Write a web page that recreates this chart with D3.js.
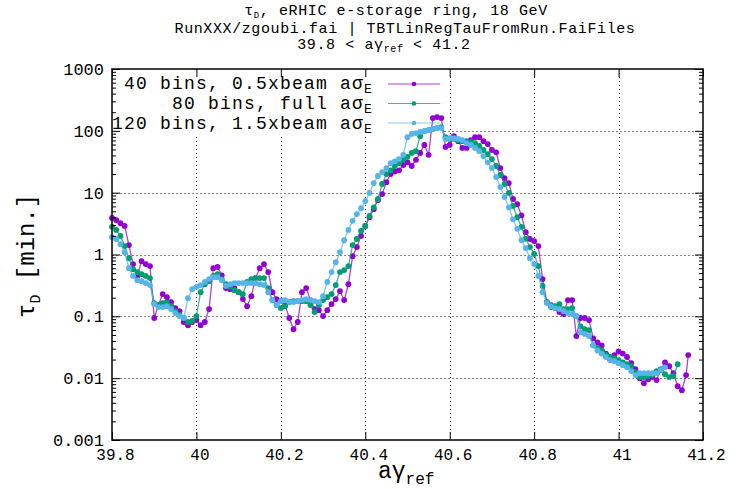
<!DOCTYPE html>
<html>
<head>
<meta charset="utf-8">
<script src="https://cdn.jsdelivr.net/npm/d3@7"></script>
<style>
  body { margin: 0; background: #fff; }
  text { font-family: "Liberation Mono", "DejaVu Sans Mono", monospace; fill: #000; }
</style>
</head>
<body>
<svg id="chart" width="740" height="489"></svg>
<script>
// a*gamma_ref sample positions (shared by the three binnings)
const gammaRef = [
  39.80, 39.81, 39.82, 39.83, 39.84, 39.85, 39.86, 39.87, 39.88, 39.89,
  39.90, 39.91, 39.92, 39.93, 39.94, 39.95, 39.96, 39.97, 39.98, 39.99,
  40.00, 40.01, 40.02, 40.03, 40.04, 40.05, 40.06, 40.07, 40.08, 40.09,
  40.10, 40.11, 40.12, 40.13, 40.14, 40.15, 40.16, 40.17, 40.18, 40.19,
  40.20, 40.21, 40.22, 40.23, 40.24, 40.25, 40.26, 40.27, 40.28, 40.29,
  40.30, 40.31, 40.32, 40.33, 40.34, 40.35, 40.36, 40.37, 40.38, 40.39,
  40.40, 40.41, 40.42, 40.43, 40.44, 40.45, 40.46, 40.47, 40.48, 40.49,
  40.50, 40.51, 40.52, 40.53, 40.54, 40.55, 40.56, 40.57, 40.58, 40.59,
  40.60, 40.61, 40.62, 40.63, 40.64, 40.65, 40.66, 40.67, 40.68, 40.69,
  40.70, 40.71, 40.72, 40.73, 40.74, 40.75, 40.76, 40.77, 40.78, 40.79,
  40.80, 40.81, 40.82, 40.83, 40.84, 40.85, 40.86, 40.87, 40.88, 40.89,
  40.90, 40.91, 40.92, 40.93, 40.94, 40.95, 40.96, 40.97, 40.98, 40.99,
  41.00, 41.01, 41.02, 41.03, 41.04, 41.05, 41.06, 41.07, 41.08, 41.09,
  41.10, 41.11, 41.12, 41.13, 41.14, 41.15, 41.16, 41.165
];

// tau_D [min.] : 40 bins, 0.5 x beam a.sigma_E
const tau40bins = [
  3.9, 3.6, 3.2, 2.9, 1.42, 0.70, 0.45, 0.78, 0.70, 0.65,
  0.094, 0.152, 0.229, 0.204, 0.170, 0.136, 0.121, 0.081, 0.072, 0.081,
  0.087, 0.072, 0.081, 0.131, 0.60, 0.63, 0.46, 0.286, 0.275, 0.286,
  0.246, 0.19, 0.146, 0.212, 0.415, 0.60, 0.70, 0.52, 0.246, 0.19,
  0.176, 0.152, 0.094, 0.062, 0.081, 0.246, 0.286, 0.183, 0.131, 0.126,
  0.101, 0.126, 0.158, 0.19, 0.256, 0.183, 0.33, 0.94, 1.32, 2.0,
  2.9, 4.0, 5.4, 7.6, 9.5, 14.8, 20, 22, 23, 28,
  31, 27, 34, 44, 59, 41, 161, 167, 161, 55,
  59, 82, 68, 53, 53, 71, 79, 79, 68, 61,
  49, 45, 25, 17.2, 14.3, 7.9, 6.5, 4.3, 2.3, 1.78,
  1.65, 1.37, 0.40, 0.170, 0.152, 0.136, 0.117, 0.109, 0.183, 0.183,
  0.048, 0.094, 0.094, 0.087, 0.044, 0.038, 0.034, 0.025, 0.020, 0.0236,
  0.027, 0.025, 0.022, 0.0175, 0.014, 0.010, 0.0083, 0.0096, 0.0104, 0.0093,
  0.0135, 0.018, 0.0156, 0.012, 0.0074, 0.0064, 0.0112, 0.0236
];

// tau_D [min.] : 80 bins, full a.sigma_E
const tau80bins = [
  2.8, 2.5, 2.0, 1.37, 0.87, 0.58, 0.52, 0.48, 0.45, 0.415,
  0.164, 0.152, 0.164, 0.170, 0.146, 0.121, 0.105, 0.094, 0.081, 0.084,
  0.101, 0.246, 0.33, 0.37, 0.45, 0.48, 0.40, 0.33, 0.30, 0.265,
  0.246, 0.229, 0.36, 0.40, 0.415, 0.415, 0.415, 0.286, 0.183, 0.152,
  0.136, 0.146, 0.170, 0.176, 0.176, 0.176, 0.176, 0.152, 0.117, 0.152,
  0.183, 0.204, 0.229, 0.32, 0.52, 0.56, 0.65, 1.42, 1.78, 2.4,
  2.9, 4.2, 5.8, 7.9, 13.8, 20, 23, 27, 30, 34,
  38, 44, 47, 82, 99, 103, 107, 111, 115, 79,
  74, 74, 71, 68, 68, 66, 63, 57, 49, 42,
  35, 27, 19.3, 13.8, 9.9, 6.1, 4.0, 2.8, 1.8, 1.32,
  1.02, 0.65, 0.31, 0.170, 0.141, 0.146, 0.158, 0.131, 0.131, 0.136,
  0.101, 0.069, 0.062, 0.060, 0.034, 0.031, 0.028, 0.024, 0.022, 0.021,
  0.0196, 0.018, 0.0168, 0.0156, 0.0125, 0.0104, 0.0104, 0.0108, 0.0112, 0.013,
  0.014, 0.0116, 0.0104, 0.0108, 0.0168, null, null, null
];

// tau_D [min.] : 120 bins, 1.5 x beam a.sigma_E
const tau120bins = [
  1.9, 1.78, 1.47, 1.09, 0.60, 0.45, 0.385, 0.37, 0.345, 0.32,
  0.158, 0.141, 0.141, 0.146, 0.131, 0.113, 0.101, 0.094, 0.197, 0.275,
  0.30, 0.32, 0.36, 0.40, 0.43, 0.43, 0.385, 0.31, 0.33, 0.345,
  0.345, 0.345, 0.345, 0.345, 0.345, 0.33, 0.32, 0.246, 0.183, 0.152,
  0.176, 0.183, 0.170, 0.170, 0.176, 0.183, 0.19, 0.183, 0.176, 0.170,
  0.212, 0.36, 0.52, 0.75, 1.09, 1.7, 2.5, 3.5, 4.5, 5.6,
  7.3, 9.9, 14.3, 18.6, 21.5, 25, 30, 32, 35, 41,
  79, 89, 92, 96, 99, 103, 107, 111, 111, 74,
  76, 76, 74, 71, 63, 59, 53, 47, 39, 31,
  25, 17.9, 12.3, 8.5, 5.8, 3.7, 2.6, 1.7, 1.27, 0.87,
  0.70, 0.45, 0.246, 0.164, 0.146, 0.136, 0.131, 0.121, 0.113, 0.109,
  0.101, 0.055, 0.052, 0.048, 0.034, 0.028, 0.025, 0.022, 0.0196, 0.0188,
  0.0175, 0.0162, 0.015, 0.013, 0.0112, 0.012, 0.012, 0.012, 0.012, 0.012,
  0.0135, 0.015, null, null, null, null, null, null
];

const xTickValues = [39.8, 40.0, 40.2, 40.4, 40.6, 40.8, 41.0, 41.2];
const yTickValues = [0.001, 0.01, 0.1, 1, 10, 100, 1000];

// legend entries (text before the sigma) and colours
const seriesLabels = ["40 bins, 0.5xbeam a", "80 bins, full a", "120 bins, 1.5xbeam a"];
const seriesColors = ["#9400d3", "#009e73", "#56b4e9"];
const seriesValues = [tau40bins, tau80bins, tau120bins];

const svg = d3.select("#chart");
const plotLeft = 112, plotRight = 703, plotTop = 69, plotBottom = 440;

const x = d3.scaleLinear().domain([39.8, 41.2]).range([plotLeft, plotRight]);
const y = d3.scaleLog().domain([0.001, 1000]).range([plotBottom, plotTop]);

// ---- title ----
const title = svg.append("g").attr("font-size", 15).attr("letter-spacing", 0.6);
const t1 = title.append("text").attr("x", 396).attr("y", 15).attr("text-anchor", "middle");
t1.append("tspan").text("τ");
t1.append("tspan").attr("font-size", 9).attr("dy", 2.5).text("D");
t1.append("tspan").attr("dy", -2.5).text(", eRHIC e-storage ring, 18 GeV");
title.append("text").attr("x", 405).attr("y", 32.5).attr("text-anchor", "middle")
  .text("RunXXX/zgoubi.fai | TBTLinRegTauFromRun.FaiFiles");
const t3 = title.append("text").attr("x", 384).attr("y", 48.5).attr("text-anchor", "middle");
t3.append("tspan").text("39.8 < aγ");
t3.append("tspan").attr("font-size", 10).attr("dy", 3).text("ref");
t3.append("tspan").attr("dy", -3).text(" < 41.2");

// ---- grid ----
const grid = svg.append("g").attr("fill", "none");
grid.selectAll("line.gx").data(xTickValues.slice(1, -1)).join("line")
  .attr("class", "gx")
  .attr("x1", d => Math.round(x(d)) + 0.5).attr("x2", d => Math.round(x(d)) + 0.5)
  .attr("y1", plotTop).attr("y2", plotBottom)
  .attr("stroke", "#222").attr("stroke-width", 1).attr("stroke-dasharray", "1,3");
grid.selectAll("line.gy").data(yTickValues.slice(1, -1)).join("line")
  .attr("class", "gy")
  .attr("x1", plotLeft).attr("x2", plotRight)
  .attr("y1", d => Math.round(y(d)) + 0.5).attr("y2", d => Math.round(y(d)) + 0.5)
  .attr("stroke", "#888").attr("stroke-width", 1).attr("stroke-dasharray", "2,2");

// opaque legend background
svg.append("rect").attr("x", plotLeft + 1).attr("y", plotTop + 1)
  .attr("width", 331).attr("height", 64).attr("fill", "#fff");

// ---- data ----
const line = d3.line()
  .defined(d => d[1] != null)
  .x(d => x(d[0]))
  .y(d => y(d[1]));

const plot = svg.append("g");
seriesValues.forEach((vals, k) => {
  const rows = gammaRef.map((g, i) => [g, vals[i]]);
  const g = plot.append("g");
  g.append("path").datum(rows)
    .attr("d", line)
    .attr("fill", "none")
    .attr("stroke", seriesColors[k])
    .attr("stroke-width", 1.3)
    .attr("stroke-opacity", 0.75);
  g.selectAll("circle").data(rows.filter(d => d[1] != null)).join("circle")
    .attr("cx", d => x(d[0]))
    .attr("cy", d => y(d[1]))
    .attr("r", 2.9)
    .attr("fill", seriesColors[k]);
});

// ---- legend ----
const legend = svg.append("g").attr("font-size", 18).attr("letter-spacing", 1.2);
const rowBase = [89, 109, 128.5];
const rowMid = [84, 103.5, 123];
seriesLabels.forEach((lab, k) => {
  const t = legend.append("text").attr("x", 373).attr("y", rowBase[k]).attr("text-anchor", "end");
  t.append("tspan").text(lab + "σ");
  t.append("tspan").attr("font-size", 13).attr("dy", 4).text("E");
  legend.append("line")
    .attr("x1", 388).attr("x2", 440).attr("y1", rowMid[k]).attr("y2", rowMid[k])
    .attr("stroke", seriesColors[k]).attr("stroke-width", 1.2).attr("stroke-opacity", 0.75);
  legend.append("circle").attr("cx", 414).attr("cy", rowMid[k]).attr("r", 2.3)
    .attr("fill", seriesColors[k]);
});

// ---- axes ----
const minorY = [];
yTickValues.slice(0, -1).forEach(d => {
  for (let m = 2; m <= 9; m++) minorY.push(d * m);
});

const fmtX = d => d3.format("~g")(+d.toFixed(1));
const fmtY = d3.format("~g");

const axB = svg.append("g").attr("transform", `translate(0,${plotBottom})`)
  .call(d3.axisBottom(x).tickValues(xTickValues).tickFormat(fmtX).tickSizeInner(-8).tickSizeOuter(0));
axB.selectAll("text").attr("font-size", 16).attr("dy", null).attr("y", 20).attr("dx", 3)
  .attr("font-family", "Liberation Mono");
svg.append("g").attr("transform", `translate(0,${plotTop})`)
  .call(d3.axisTop(x).tickValues(xTickValues).tickFormat("").tickSizeInner(-8).tickSizeOuter(0));

const axL = svg.append("g").attr("transform", `translate(${plotLeft},0)`)
  .call(d3.axisLeft(y).tickValues(yTickValues).tickFormat(fmtY).tickSizeInner(-8).tickSizeOuter(0).tickPadding(8));
axL.selectAll("text").attr("font-size", 17).attr("font-family", "Liberation Mono");
svg.append("g").attr("transform", `translate(${plotLeft},0)`)
  .call(d3.axisLeft(y).tickValues(minorY).tickFormat("").tickSizeInner(-4).tickSizeOuter(0));
svg.append("g").attr("transform", `translate(${plotRight},0)`)
  .call(d3.axisRight(y).tickValues(yTickValues).tickFormat("").tickSizeInner(-8).tickSizeOuter(0));
svg.append("g").attr("transform", `translate(${plotRight},0)`)
  .call(d3.axisRight(y).tickValues(minorY).tickFormat("").tickSizeInner(-4).tickSizeOuter(0));

svg.selectAll(".domain").remove();
svg.selectAll(".tick line").attr("stroke", "#000").attr("stroke-width", 1);

// plot border
svg.append("rect").attr("x", plotLeft).attr("y", plotTop)
  .attr("width", plotRight - plotLeft).attr("height", plotBottom - plotTop)
  .attr("fill", "none").attr("stroke", "#000").attr("stroke-width", 1.5);

// ---- axis titles ----
const xl = svg.append("text").attr("x", 378).attr("y", 478).attr("font-size", 23);
xl.append("tspan").text("aγ");
xl.append("tspan").attr("font-size", 16).attr("dy", 6).text("ref");

const yl = svg.append("text").attr("transform", "translate(34,318) rotate(-90)").attr("font-size", 24);
yl.append("tspan").text("τ");
yl.append("tspan").attr("font-size", 15).attr("dy", 6).text("D");
yl.append("tspan").attr("dy", -6).text(" [min.]");
</script>
</body>
</html>
